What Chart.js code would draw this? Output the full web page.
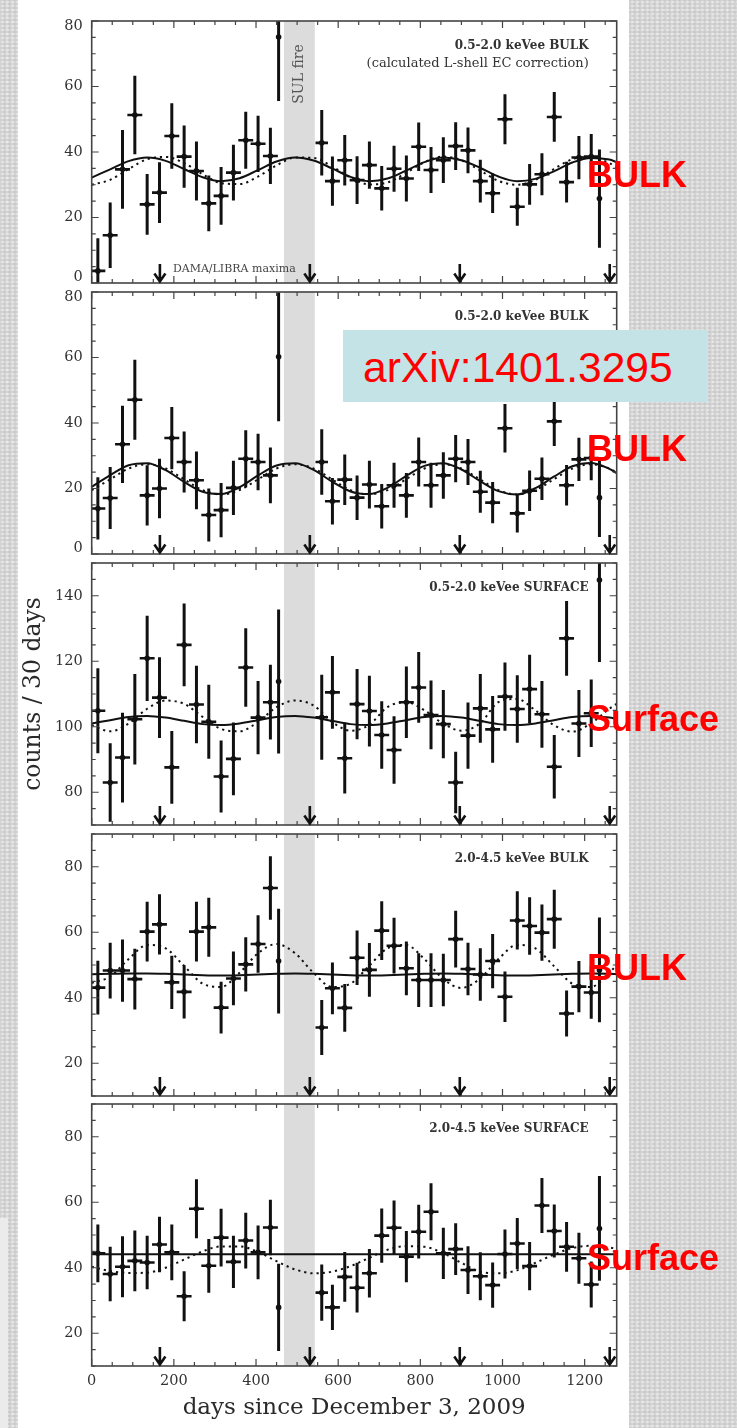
<!DOCTYPE html>
<html>
<head>
<meta charset="utf-8">
<script src="https://cdn.jsdelivr.net/npm/chart.js@4.4.1/dist/chart.umd.min.js"></script>
<style>
  html, body { margin: 0; padding: 0; }
  body {
    width: 737px; height: 1428px; position: relative; overflow: hidden;
    background-color: #d4d4d4;
    background-image:
      radial-gradient(circle, rgba(255,255,255,0.45) 0 0.8px, rgba(255,255,255,0) 1.5px),
      radial-gradient(circle, rgba(140,140,140,0.18) 0 0.8px, rgba(140,140,140,0) 1.5px),
      radial-gradient(circle, rgba(255,255,255,0.30) 0 0.7px, rgba(255,255,255,0) 1.4px);
    background-size: 5px 4px, 5px 4px, 7px 6px;
    background-position: 0 0, 2px 2px, 3px 1px;
  }
  #sheet { position: absolute; left: 18px; top: 0; width: 611px; height: 1428px; background: #fff; }
  #edge { position: absolute; left: 0; top: 1218px; width: 8px; height: 210px; background: #ebebeb; }
  canvas { position: absolute; left: 0; }
  .tag {
    position: absolute; left: 587px; white-space: nowrap;
    font-family: "Liberation Sans", Arial, sans-serif; font-weight: bold;
    font-size: 36px; line-height: 36px; color: #ff0000;
  }
  #ref { position: absolute; left: 343px; top: 330px; width: 365px; height: 72px; background: #c3e3e6; }
  #ref span {
    position: absolute; left: 20px; top: 17px; white-space: nowrap;
    font-family: "Liberation Sans", Arial, sans-serif; font-size: 42.5px; line-height: 42.5px; color: #ff0000;
  }
</style>
</head>
<body>
<div id="sheet"></div>
<div id="edge"></div>
<div id="stack"></div>
<div class="tag" style="top:157px">BULK</div>
<div class="tag" style="top:431px">BULK</div>
<div class="tag" style="top:701px">Surface</div>
<div class="tag" style="top:950px">BULK</div>
<div class="tag" style="top:1240px">Surface</div>
<div id="ref"><span>arXiv:1401.3295</span></div>

<script>
// 30-day bins (days since Dec 3, 2009); partial bins around the fire have no width bar
const binCenters = [15,45,75,105,135,165,195,225,255,285,315,345,375,405,435,455,560,
  586,616,646,676,706,736,766,796,826,856,886,916,946,976,1006,1036,1066,1096,1126,1156,1186,1216,1236];
const binHalfWidths = [15,15,15,15,15,15,15,15,15,15,15,15,15,15,15,0,12,
  15,15,15,15,15,15,15,15,15,15,15,15,15,15,15,15,15,15,15,15,15,15,0];

// sample days for the fitted modulation curves
const fitDays = [0,45,90,135,180,225,270,315,360,405,450,495,540,585,630,675,720,765,810,855,900,945,990,1035,1080,1125,1170,1215,1260,1278];

const xTickDays = [0,200,400,600,800,1000,1200];
const damaMaxima = [166,531,896,1261];
const fireWindow = [468,543];
const dayMax = 1278;

// 0.5-2.0 keVee bulk, calculated L-shell EC correction
const lowBulkCalc = [3.7,14.6,34.7,51.3,24.0,27.6,44.9,38.6,34.2,24.3,26.6,33.7,43.6,42.5,38.8,75.1,42.8,
  31.1,37.5,31.4,36.0,28.9,34.9,31.9,41.6,34.5,37.5,41.8,40.5,31.1,27.4,50.0,23.3,30.1,33.2,50.7,30.8,38.3,38.6,25.8];
const lowBulkCalcErr = [10,10,12,12,9.3,9.3,10,9.5,9,8.5,8.8,8.5,8.7,8.6,8.6,19.5,10,
  7.5,7.7,7.3,7.2,6.8,7,7,7.4,7,7,7.3,7,6.5,6,7.6,5.8,6.2,6.4,7.6,6.2,6.6,6.9,15];
const lowBulkCalcFit = [32.2,34.7,37.2,38.3,37.3,34.8,32.3,31.1,32.0,34.5,37.1,38.3,37.4,35.0,32.4,31.1,31.9,34.3,36.9,38.3,37.5,35.2,32.5,31.1,31.8,34.1,36.8,38.2,37.7,36.9];
const lowBulkCalcDama = [30.0,31.5,34.8,37.8,38.5,36.6,33.2,30.5,30.2,32.5,35.9,38.3,38.2,35.6,32.2,30.1,30.7,33.6,36.9,38.6,37.5,34.4,31.2,30.0,31.5,34.8,37.8,38.5,36.6,35.3];

// 0.5-2.0 keVee bulk
const lowBulk = [13.9,17.1,33.5,47.1,17.9,20.0,35.4,28.1,22.5,11.9,13.4,20.2,29.1,28.1,24.0,60.2,28.1,
  16.1,22.7,17.2,21.2,14.6,21.0,17.9,28.1,21.0,24.0,29.1,28.1,19.0,15.7,38.4,12.4,19.3,23.0,40.5,21.0,28.9,29.3,17.2];
const lowBulkErr = [9.5,9.5,11.8,12.2,9.2,9.1,9.5,9.3,8.8,8.1,8.3,8.3,8.7,8.6,8.5,19.7,10,
  7.1,7.7,6.8,7.3,6.8,6.9,6.8,7.5,6.9,7.1,7.2,7,6.4,6.3,7.4,5.8,6.2,6.5,7.5,6.2,6.6,6.8,12];
const lowBulkFit = [20.5,24.1,27.1,27.7,25.6,22.0,19.0,18.3,20.4,24.0,27.0,27.7,25.7,22.1,19.1,18.3,20.2,23.8,26.9,27.7,25.8,22.3,19.2,18.2,20.1,23.6,26.8,27.8,26.0,24.7];
const lowBulkDama = [19.5,22.8,26.1,27.4,26.1,22.8,19.5,18.2,19.5,22.8,26.1,27.4,26.1,22.8,19.5,18.2,19.5,22.8,26.1,27.4,26.1,22.8,19.5,18.2,19.5,22.8,26.1,27.4,26.1,24.9];

// 0.5-2.0 keVee surface
const lowSurface = [104.9,83.0,90.6,102.3,120.9,108.9,87.6,125.0,106.8,101.5,84.8,90.2,118.1,102.8,107.5,113.8,102.9,
  110.5,90.4,106.9,104.8,97.5,92.9,107.5,112.0,103.6,100.8,83.0,97.3,105.6,99.2,109.2,105.4,111.5,103.8,87.8,127.0,101.0,104.1,144.8];
const lowSurfaceErr = [13,12,13.7,13.8,13,12.3,11.1,12.6,11.8,11.3,11,11.1,12,11.2,11.4,22,13,
  11.1,10.8,10.7,10.8,10.3,10.3,10.9,10.8,10.5,10.4,9.4,10.1,10.5,10.2,10.4,10.3,10.5,10.2,9.7,11.4,10.2,10.3,25];
const lowSurfaceFit = [101.0,102.0,103.0,103.3,102.8,101.8,100.8,100.5,101.0,102.0,103.0,103.3,102.8,101.8,100.8,100.5,101.0,102.0,103.0,103.3,102.8,101.8,100.8,100.5,101.0,102.0,103.0,103.3,102.8,102.4];
const lowSurfaceDama = [100.5,98.6,101.0,105.5,108.0,107.0,103.0,99.3,98.6,101.5,106.0,108.0,106.5,101.5,98.8,100.5,106.0,107.5,105.0,101.0,98.8,101.0,107.5,108.5,105.0,100.5,98.5,101.0,105.5,107.0];

// 2.0-4.5 keVee bulk
const highBulk = [43.1,48.3,48.3,45.7,60.2,62.4,44.7,41.8,60.2,61.5,37.0,45.9,50.2,56.4,73.5,51.2,30.9,
  42.9,36.9,52.2,48.5,60.5,55.9,49.0,45.4,45.4,45.4,57.9,48.8,47.1,51.2,40.3,63.6,61.9,59.9,64.0,35.2,43.4,41.6,48.5];
const highBulkErr = [8.2,8.5,9.5,9.3,9.1,9.2,8.1,8.1,9.1,9,7.9,8.2,8.3,8.8,9.7,16,8.4,
  7.9,7.3,8.3,8.2,9,8.5,8.2,8.2,8.2,8,8.7,8,8,8.3,7.7,8.9,8.8,8.6,9,7,7.8,8,16];
const highBulkFit = [47.2,47.3,47.4,47.4,47.3,47.1,46.9,46.8,46.9,47.1,47.3,47.4,47.3,47.1,46.9,46.8,46.9,47.1,47.3,47.4,47.3,47.1,46.9,46.8,46.9,47.1,47.3,47.4,47.3,47.2];
const highBulkDama = [44.5,46.5,51.8,56.1,55.1,49.7,44.3,43.3,47.6,53.6,56.4,53.6,47.6,43.3,44.3,49.7,55.1,56.1,51.8,45.8,43.0,45.8,51.8,56.1,55.1,49.7,44.3,43.3,47.6,50.1];

// 2.0-4.5 keVee surface
const highSurface = [44.4,38.1,40.3,42.1,41.6,47.1,44.7,31.3,58.0,40.6,49.2,41.8,48.3,44.7,52.3,27.9,32.4,
  27.9,37.2,33.9,38.3,49.8,52.2,43.4,51.0,57.1,44.4,45.7,39.3,37.4,34.7,44.2,47.4,40.5,59.0,51.2,46.4,42.9,34.9,52.0];
const highSurfaceErr = [8.8,8.3,9.3,9.3,8.2,8.5,8.5,7.6,9,8.2,8.8,8,8.5,8.2,8.5,13.3,8.6,
  6.9,7.6,7.6,7.4,8.3,8.3,7.8,8.2,8.7,7.8,7.9,7.3,7.3,6.9,7.5,7.8,7.4,8.4,8.1,7.6,7.8,7,16];
const highSurfaceFit = [44.1,44.1,44.1,44.1,44.1,44.1,44.1,44.1,44.1,44.1,44.1,44.1,44.1,44.1,44.1,44.1,44.1,44.1,44.1,44.1,44.1,44.1,44.1,44.1,44.1,44.1,44.1,44.1,44.1,44.1];
const highSurfaceDama = [40.3,39.0,38.4,38.5,40.0,42.5,45.0,46.5,46.5,44.8,42.0,39.5,38.3,38.8,40.5,43.0,45.5,46.6,46.4,44.5,41.5,38.8,38.3,39.2,41.5,44.0,46.0,46.7,46.2,45.8];

const panels = [
  { values: lowBulkCalc, errors: lowBulkCalcErr, fit: lowBulkCalcFit, dama: lowBulkCalcDama,
    yRange: [0, 80], yTicks: [0, 20, 40, 60, 80],
    caption: ['0.5-2.0 keVee BULK', '(calculated L-shell EC correction)'], notes: true },
  { values: lowBulk, errors: lowBulkErr, fit: lowBulkFit, dama: lowBulkDama,
    yRange: [0, 80], yTicks: [0, 20, 40, 60, 80], caption: ['0.5-2.0 keVee BULK'] },
  { values: lowSurface, errors: lowSurfaceErr, fit: lowSurfaceFit, dama: lowSurfaceDama,
    yRange: [70, 150], yTicks: [80, 100, 120, 140], caption: ['0.5-2.0 keVee SURFACE'], yTitle: 'counts / 30 days' },
  { values: highBulk, errors: highBulkErr, fit: highBulkFit, dama: highBulkDama,
    yRange: [10, 90], yTicks: [20, 40, 60, 80], caption: ['2.0-4.5 keVee BULK'] },
  { values: highSurface, errors: highSurfaceErr, fit: highSurfaceFit, dama: highSurfaceDama,
    yRange: [10, 90], yTicks: [20, 40, 60, 80], caption: ['2.0-4.5 keVee SURFACE'] }
];

// page layout of the five stacked frames
const frameTops = [21, 292, 563, 834, 1104];
const frameHeight = 262;
const pad = 10;
const axisWidth = 91.7;
const rightGap = 120.3;
const bottomAxisHeight = 62;

const INK = '#111';
const FRAME = '#444';
const TEXT = '#333';

Chart.defaults.font.family = '"DejaVu Serif", "Liberation Serif", serif';
Chart.defaults.color = TEXT;

function points(xs, ys) { return xs.map((x, i) => ({ x, y: ys[i] })); }

function verticalBars(values, errors) {
  const out = [];
  binCenters.forEach((d, i) => {
    out.push({ x: d, y: values[i] - errors[i] }, { x: d, y: values[i] + errors[i] }, { x: d, y: null });
  });
  return out;
}

function horizontalBars(values) {
  const out = [];
  binCenters.forEach((d, i) => {
    const w = binHalfWidths[i];
    if (w > 0) out.push({ x: d - w, y: values[i] }, { x: d + w, y: values[i] }, { x: d, y: null });
  });
  return out;
}

// labels may overhang the frame; keep the frame exactly where the layout puts it
function noOverhang(s) {
  s.paddingTop = 0; s.paddingBottom = 0; s.paddingLeft = 0; s.paddingRight = 0;
}

// shaded fire window, frame, inward ticks, maxima arrows and in-frame captions
const decor = {
  id: 'decor',
  beforeDatasetsDraw(chart) {
    const { ctx, chartArea: a, scales: { x } } = chart;
    const x0 = x.getPixelForValue(fireWindow[0]);
    const x1 = x.getPixelForValue(fireWindow[1]);
    ctx.save();
    ctx.fillStyle = '#dcdcdc';
    ctx.fillRect(x0, a.top, x1 - x0, a.bottom - a.top);
    ctx.restore();
  },
  afterDatasetsDraw(chart, args, opts) {
    const { ctx, chartArea: a, scales: { x, y } } = chart;
    const p = opts.panel;
    ctx.save();

    // inward tick marks on all four sides
    ctx.strokeStyle = FRAME;
    ctx.lineWidth = 1.2;
    ctx.beginPath();
    for (let d = 0; d <= x.max; d += 50) {
      const px = x.getPixelForValue(d);
      const len = d % 200 === 0 ? 7 : 4;
      ctx.moveTo(px, a.bottom); ctx.lineTo(px, a.bottom - len);
      ctx.moveTo(px, a.top); ctx.lineTo(px, a.top + len);
    }
    for (let v = y.min; v <= y.max; v += 5) {
      const py = y.getPixelForValue(v);
      const len = v % 20 === 0 ? 7 : 4;
      ctx.moveTo(a.left, py); ctx.lineTo(a.left + len, py);
      ctx.moveTo(a.right, py); ctx.lineTo(a.right - len, py);
    }
    ctx.stroke();

    // frame
    ctx.lineWidth = 1.6;
    ctx.strokeRect(a.left, a.top, a.right - a.left, a.bottom - a.top);

    // DAMA/LIBRA maxima arrows
    ctx.strokeStyle = INK;
    ctx.lineWidth = 2.6;
    for (const d of damaMaxima) {
      const px = x.getPixelForValue(d);
      ctx.beginPath();
      ctx.moveTo(px, a.bottom - 19); ctx.lineTo(px, a.bottom - 1);
      ctx.moveTo(px - 5.5, a.bottom - 9.5); ctx.lineTo(px, a.bottom - 1.5); ctx.lineTo(px + 5.5, a.bottom - 9.5);
      ctx.stroke();
    }

    // captions
    ctx.fillStyle = TEXT;
    ctx.textAlign = 'right';
    ctx.textBaseline = 'middle';
    ctx.font = 'bold 12px "DejaVu Serif", serif';
    ctx.fillText(p.caption[0], a.right - 28, a.top + 25);
    if (p.caption[1]) {
      ctx.font = '13px "DejaVu Serif", serif';
      ctx.fillText(p.caption[1], a.right - 28, a.top + 42.5);
    }

    if (p.notes) {
      ctx.textAlign = 'left';
      ctx.font = '11px "DejaVu Serif", serif';
      ctx.fillStyle = '#444';
      ctx.fillText('DAMA/LIBRA maxima', x.getPixelForValue(damaMaxima[0]) + 13, a.bottom - 14);

      const cx = (x.getPixelForValue(fireWindow[0]) + x.getPixelForValue(fireWindow[1])) / 2;
      ctx.translate(cx, a.top + 53);
      ctx.rotate(-Math.PI / 2);
      ctx.textAlign = 'center';
      ctx.font = '14px "DejaVu Serif", serif';
      ctx.fillStyle = '#555';
      ctx.fillText('SUL fire', 0, 0);
    }
    ctx.restore();
  }
};

const stack = document.getElementById('stack');

panels.forEach((p, i) => {
  const last = i === panels.length - 1;
  const canvas = document.createElement('canvas');
  const h = last ? frameHeight + pad + bottomAxisHeight : frameHeight + 2 * pad;
  canvas.width = 737;
  canvas.height = h;
  canvas.style.width = '737px';
  canvas.style.height = h + 'px';
  canvas.style.top = (frameTops[i] - pad) + 'px';
  stack.appendChild(canvas);

  new Chart(canvas, {
    type: 'scatter',
    data: {
      datasets: [
        { data: points(binCenters, p.values), pointRadius: 2.8, pointHoverRadius: 0,
          pointBackgroundColor: INK, pointBorderWidth: 0, showLine: false, clip: 0 },
        { data: verticalBars(p.values, p.errors), showLine: true, spanGaps: false,
          borderColor: INK, borderWidth: 3, pointRadius: 0, clip: 0 },
        { data: horizontalBars(p.values), showLine: true, spanGaps: false,
          borderColor: INK, borderWidth: 2.6, borderCapStyle: 'square', pointRadius: 0, clip: 0 },
        { data: points(fitDays, p.fit), showLine: true, borderColor: INK, borderWidth: 2,
          pointRadius: 0, cubicInterpolationMode: 'monotone', clip: 0 },
        { data: points(fitDays, p.dama), showLine: true, borderColor: INK, borderWidth: 2,
          borderDash: [2.2, 4], pointRadius: 0, cubicInterpolationMode: 'monotone', clip: 0 }
      ]
    },
    options: {
      responsive: false,
      animation: false,
      devicePixelRatio: 1,
      events: [],
      layout: { padding: { left: 0, right: rightGap, top: pad, bottom: last ? 0 : pad } },
      plugins: { legend: { display: false }, tooltip: { enabled: false }, decor: { panel: p } },
      scales: {
        x: {
          type: 'linear', min: 0, max: dayMax, display: last,
          afterBuildTicks(s) { s.ticks = xTickDays.map(v => ({ value: v })); },
          afterFit(s) { noOverhang(s); if (last) s.height = bottomAxisHeight; },
          grid: { display: false, drawTicks: false }, border: { display: false },
          ticks: { padding: 7, autoSkip: false, maxRotation: 0, color: TEXT,
                   font: { size: 14.5 }, callback: v => String(v) },
          title: { display: last, text: 'days since December 3, 2009', color: '#2a2a2a',
                   font: { size: 23 }, padding: { top: 0, bottom: 6 } }
        },
        y: {
          type: 'linear', min: p.yRange[0], max: p.yRange[1],
          afterBuildTicks(s) { s.ticks = p.yTicks.map(v => ({ value: v })); },
          afterFit(s) { noOverhang(s); s.width = axisWidth; },
          grid: { display: false, drawTicks: false }, border: { display: false },
          ticks: {
            padding: 9, autoSkip: false, color: TEXT, font: { size: 14.5, lineHeight: 0.75 },
            callback(v) {
              if (v === p.yRange[1]) return ['', String(v)];
              if (v === p.yRange[0]) return [String(v), ''];
              return String(v);
            }
          },
          title: { display: !!p.yTitle, text: p.yTitle || '', color: '#2a2a2a',
                   font: { size: 23.5 }, padding: { top: 20, bottom: 0 } }
        }
      }
    },
    plugins: [decor]
  });
});
</script>
</body>
</html>
